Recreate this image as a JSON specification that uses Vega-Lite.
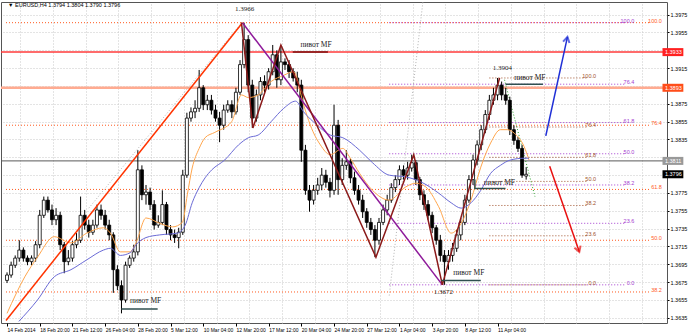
{
"$schema":"https://vega.github.io/schema/vega-lite/v6.json",
"width":666,"height":321,
"autosize":{"type":"none"},
"padding":{"left":1,"top":2,"right":21,"bottom":10},
"background":"#ffffff",
"config":{"view":{"stroke":"#555555","strokeWidth":1},"text":{"font":"Liberation Sans"}},
"datasets":{
"candles":[
{"i":0,"o":1.3677,"h":1.3686,"l":1.3674,"c":1.3683},{"i":2,"o":1.3683,"h":1.3698,"l":1.3680,"c":1.3694},{"i":4,"o":1.3694,"h":1.3705,"l":1.3691,"c":1.3702},{"i":6,"o":1.3702,"h":1.3722,"l":1.3698,"c":1.3711},{"i":8,"o":1.3711,"h":1.3714,"l":1.3698,"c":1.3702},{"i":10,"o":1.3702,"h":1.3705,"l":1.3694,"c":1.3698},{"i":12,"o":1.3698,"h":1.3705,"l":1.3694,"c":1.3702},{"i":14,"o":1.3702,"h":1.3721,"l":1.3698,"c":1.3717},{"i":16,"o":1.3717,"h":1.3756,"l":1.3713,"c":1.3750},{"i":18,"o":1.3750,"h":1.3771,"l":1.3747,"c":1.3767},{"i":20,"o":1.3767,"h":1.3771,"l":1.3753,"c":1.3756},{"i":22,"o":1.3756,"h":1.3762,"l":1.3739,"c":1.3745},{"i":24,"o":1.3745,"h":1.3758,"l":1.3739,"c":1.3750},{"i":26,"o":1.3750,"h":1.3754,"l":1.3711,"c":1.3717},{"i":28,"o":1.3717,"h":1.3720,"l":1.3685,"c":1.3698},{"i":30,"o":1.3698,"h":1.3711,"l":1.3694,"c":1.3702},{"i":32,"o":1.3702,"h":1.3721,"l":1.3698,"c":1.3717},{"i":34,"o":1.3717,"h":1.3730,"l":1.3713,"c":1.3722},{"i":36,"o":1.3722,"h":1.3771,"l":1.3719,"c":1.3750},{"i":38,"o":1.3750,"h":1.3756,"l":1.3734,"c":1.3739},{"i":40,"o":1.3739,"h":1.3745,"l":1.3725,"c":1.3731},{"i":42,"o":1.3731,"h":1.3745,"l":1.3728,"c":1.3739},{"i":44,"o":1.3739,"h":1.3762,"l":1.3736,"c":1.3756},{"i":46,"o":1.3756,"h":1.3762,"l":1.3745,"c":1.3750},{"i":48,"o":1.3750,"h":1.3756,"l":1.3734,"c":1.3739},{"i":50,"o":1.3739,"h":1.3745,"l":1.3722,"c":1.3728},{"i":52,"o":1.3728,"h":1.3731,"l":1.3663,"c":1.3689},{"i":54,"o":1.3689,"h":1.3694,"l":1.3666,"c":1.3671},{"i":56,"o":1.3671,"h":1.3677,"l":1.3640,"c":1.3655},{"i":58,"o":1.3655,"h":1.3698,"l":1.3652,"c":1.3694},{"i":60,"o":1.3694,"h":1.3705,"l":1.3691,"c":1.3702},{"i":62,"o":1.3702,"h":1.3717,"l":1.3698,"c":1.3709},{"i":64,"o":1.3709,"h":1.3823,"l":1.3705,"c":1.3801},{"i":66,"o":1.3801,"h":1.3806,"l":1.3767,"c":1.3773},{"i":68,"o":1.3773,"h":1.3784,"l":1.3762,"c":1.3776},{"i":70,"o":1.3776,"h":1.3781,"l":1.3756,"c":1.3762},{"i":72,"o":1.3762,"h":1.3767,"l":1.3734,"c":1.3739},{"i":74,"o":1.3739,"h":1.3750,"l":1.3736,"c":1.3742},{"i":76,"o":1.3742,"h":1.3778,"l":1.3739,"c":1.3762},{"i":78,"o":1.3762,"h":1.3765,"l":1.3728,"c":1.3734},{"i":80,"o":1.3734,"h":1.3739,"l":1.3722,"c":1.3728},{"i":82,"o":1.3728,"h":1.3734,"l":1.3719,"c":1.3725},{"i":84,"o":1.3725,"h":1.3736,"l":1.3713,"c":1.3731},{"i":86,"o":1.3731,"h":1.3801,"l":1.3728,"c":1.3795},{"i":88,"o":1.3795,"h":1.3865,"l":1.3792,"c":1.3859},{"i":90,"o":1.3859,"h":1.3871,"l":1.3855,"c":1.3866},{"i":92,"o":1.3866,"h":1.3879,"l":1.3859,"c":1.3870},{"i":94,"o":1.3870,"h":1.3913,"l":1.3866,"c":1.3893},{"i":96,"o":1.3893,"h":1.3896,"l":1.3868,"c":1.3874},{"i":98,"o":1.3874,"h":1.3885,"l":1.3868,"c":1.3879},{"i":100,"o":1.3879,"h":1.3885,"l":1.3863,"c":1.3868},{"i":102,"o":1.3868,"h":1.3874,"l":1.3855,"c":1.3859},{"i":104,"o":1.3859,"h":1.3866,"l":1.3832,"c":1.3851},{"i":106,"o":1.3851,"h":1.3874,"l":1.3846,"c":1.3868},{"i":108,"o":1.3868,"h":1.3879,"l":1.3865,"c":1.3874},{"i":110,"o":1.3874,"h":1.3879,"l":1.3859,"c":1.3866},{"i":112,"o":1.3866,"h":1.3893,"l":1.3863,"c":1.3888},{"i":114,"o":1.3888,"h":1.3924,"l":1.3885,"c":1.3919},{"i":116,"o":1.3919,"h":1.3966,"l":1.3915,"c":1.3947},{"i":118,"o":1.3947,"h":1.3952,"l":1.3888,"c":1.3896},{"i":120,"o":1.3896,"h":1.3902,"l":1.3848,"c":1.3859},{"i":122,"o":1.3859,"h":1.3891,"l":1.3855,"c":1.3885},{"i":124,"o":1.3885,"h":1.3905,"l":1.3879,"c":1.3900},{"i":126,"o":1.3900,"h":1.3907,"l":1.3888,"c":1.3896},{"i":128,"o":1.3896,"h":1.3915,"l":1.3891,"c":1.3911},{"i":130,"o":1.3911,"h":1.3941,"l":1.3907,"c":1.3930},{"i":132,"o":1.3930,"h":1.3935,"l":1.3893,"c":1.3902},{"i":134,"o":1.3902,"h":1.3940,"l":1.3896,"c":1.3922},{"i":136,"o":1.3922,"h":1.3926,"l":1.3913,"c":1.3919},{"i":138,"o":1.3919,"h":1.3924,"l":1.3904,"c":1.3911},{"i":140,"o":1.3911,"h":1.3915,"l":1.3900,"c":1.3904},{"i":142,"o":1.3904,"h":1.3911,"l":1.3888,"c":1.3896},{"i":144,"o":1.3896,"h":1.3902,"l":1.3810,"c":1.3823},{"i":146,"o":1.3823,"h":1.3829,"l":1.3773,"c":1.3778},{"i":148,"o":1.3778,"h":1.3784,"l":1.3754,"c":1.3767},{"i":150,"o":1.3767,"h":1.3784,"l":1.3762,"c":1.3778},{"i":152,"o":1.3778,"h":1.3792,"l":1.3773,"c":1.3784},{"i":154,"o":1.3784,"h":1.3803,"l":1.3778,"c":1.3795},{"i":156,"o":1.3795,"h":1.3801,"l":1.3781,"c":1.3787},{"i":158,"o":1.3787,"h":1.3792,"l":1.3770,"c":1.3778},{"i":160,"o":1.3778,"h":1.3874,"l":1.3773,"c":1.3851},{"i":162,"o":1.3851,"h":1.3857,"l":1.3773,"c":1.3790},{"i":164,"o":1.3790,"h":1.3814,"l":1.3784,"c":1.3806},{"i":166,"o":1.3806,"h":1.3823,"l":1.3801,"c":1.3810},{"i":168,"o":1.3810,"h":1.3814,"l":1.3786,"c":1.3792},{"i":170,"o":1.3792,"h":1.3799,"l":1.3773,"c":1.3778},{"i":172,"o":1.3778,"h":1.3784,"l":1.3762,"c":1.3767},{"i":174,"o":1.3767,"h":1.3773,"l":1.3747,"c":1.3754},{"i":176,"o":1.3754,"h":1.3758,"l":1.3736,"c":1.3742},{"i":178,"o":1.3742,"h":1.3747,"l":1.3728,"c":1.3734},{"i":180,"o":1.3734,"h":1.3739,"l":1.3703,"c":1.3722},{"i":182,"o":1.3722,"h":1.3747,"l":1.3717,"c":1.3742},{"i":184,"o":1.3742,"h":1.3762,"l":1.3739,"c":1.3756},{"i":186,"o":1.3756,"h":1.3773,"l":1.3750,"c":1.3767},{"i":188,"o":1.3767,"h":1.3786,"l":1.3764,"c":1.3781},{"i":190,"o":1.3781,"h":1.3795,"l":1.3776,"c":1.3790},{"i":192,"o":1.3790,"h":1.3806,"l":1.3784,"c":1.3801},{"i":194,"o":1.3801,"h":1.3806,"l":1.3790,"c":1.3795},{"i":196,"o":1.3795,"h":1.3810,"l":1.3790,"c":1.3803},{"i":198,"o":1.3803,"h":1.3818,"l":1.3799,"c":1.3809},{"i":200,"o":1.3809,"h":1.3812,"l":1.3784,"c":1.3790},{"i":202,"o":1.3790,"h":1.3793,"l":1.3767,"c":1.3773},{"i":204,"o":1.3773,"h":1.3778,"l":1.3756,"c":1.3762},{"i":206,"o":1.3762,"h":1.3767,"l":1.3745,"c":1.3750},{"i":208,"o":1.3750,"h":1.3754,"l":1.3730,"c":1.3736},{"i":210,"o":1.3736,"h":1.3739,"l":1.3717,"c":1.3722},{"i":212,"o":1.3722,"h":1.3728,"l":1.3698,"c":1.3705},{"i":214,"o":1.3705,"h":1.3711,"l":1.3672,"c":1.3698},{"i":216,"o":1.3698,"h":1.3711,"l":1.3689,"c":1.3705},{"i":218,"o":1.3705,"h":1.3719,"l":1.3698,"c":1.3713},{"i":220,"o":1.3713,"h":1.3734,"l":1.3709,"c":1.3728},{"i":222,"o":1.3728,"h":1.3747,"l":1.3722,"c":1.3742},{"i":224,"o":1.3742,"h":1.3773,"l":1.3739,"c":1.3767},{"i":226,"o":1.3767,"h":1.3795,"l":1.3764,"c":1.3790},{"i":228,"o":1.3790,"h":1.3818,"l":1.3784,"c":1.3812},{"i":230,"o":1.3812,"h":1.3834,"l":1.3806,"c":1.3829},{"i":232,"o":1.3829,"h":1.3851,"l":1.3823,"c":1.3846},{"i":234,"o":1.3846,"h":1.3868,"l":1.3842,"c":1.3863},{"i":236,"o":1.3863,"h":1.3885,"l":1.3857,"c":1.3879},{"i":238,"o":1.3879,"h":1.3893,"l":1.3874,"c":1.3885},{"i":240,"o":1.3885,"h":1.3904,"l":1.3879,"c":1.3896},{"i":242,"o":1.3896,"h":1.3900,"l":1.3879,"c":1.3885},{"i":244,"o":1.3885,"h":1.3893,"l":1.3874,"c":1.3879},{"i":246,"o":1.3879,"h":1.3883,"l":1.3840,"c":1.3846},{"i":248,"o":1.3846,"h":1.3851,"l":1.3829,"c":1.3834},{"i":250,"o":1.3834,"h":1.3838,"l":1.3821,"c":1.3825},{"i":252,"o":1.3825,"h":1.3829,"l":1.3792,"c":1.3795},{"i":254,"o":1.3794,"h":1.3804,"l":1.3790,"c":1.3796}
],
"ma":[
{"s":"f","i":0,"p":1.3640},{"s":"f","i":8.7,"p":1.3681},{"s":"f","i":14.9,"p":1.3703},{"s":"f","i":23.1,"p":1.3726},{"s":"f","i":31.3,"p":1.3719},{"s":"f","i":39,"p":1.3730},{"s":"f","i":47.2,"p":1.3736},{"s":"f","i":50.6,"p":1.3730},{"s":"f","i":55.4,"p":1.3709},{"s":"f","i":60.2,"p":1.3709},{"s":"f","i":63.1,"p":1.3719},{"s":"f","i":68,"p":1.3747},{"s":"f","i":74.7,"p":1.3741},{"s":"f","i":81,"p":1.3737},{"s":"f","i":85.8,"p":1.3742},{"s":"f","i":88.2,"p":1.3773},{"s":"f","i":90.6,"p":1.3803},{"s":"f","i":94,"p":1.3825},{"s":"f","i":96.9,"p":1.3837},{"s":"f","i":101.7,"p":1.3843},{"s":"f","i":109.9,"p":1.3855},{"s":"f","i":114.7,"p":1.3885},{"s":"f","i":118.1,"p":1.3882},{"s":"f","i":122.9,"p":1.3885},{"s":"f","i":129.2,"p":1.3900},{"s":"f","i":135.4,"p":1.3907},{"s":"f","i":140.2,"p":1.3911},{"s":"f","i":145.1,"p":1.3874},{"s":"f","i":148.4,"p":1.3851},{"s":"f","i":153.3,"p":1.3829},{"s":"f","i":158.1,"p":1.3818},{"s":"f","i":164.3,"p":1.3825},{"s":"f","i":167.7,"p":1.3815},{"s":"f","i":172.5,"p":1.3797},{"s":"f","i":178.8,"p":1.3778},{"s":"f","i":187,"p":1.3767},{"s":"f","i":195.2,"p":1.3782},{"s":"f","i":200,"p":1.3786},{"s":"f","i":204.8,"p":1.3782},{"s":"f","i":211.1,"p":1.3760},{"s":"f","i":217.3,"p":1.3730},{"s":"f","i":222.2,"p":1.3741},{"s":"f","i":227,"p":1.3767},{"s":"f","i":231.8,"p":1.3804},{"s":"f","i":236.6,"p":1.3831},{"s":"f","i":241.4,"p":1.3846},{"s":"f","i":244.8,"p":1.3846},{"s":"f","i":248.2,"p":1.3842},{"s":"f","i":253,"p":1.3827},{"s":"f","i":255.4,"p":1.3812},
{"s":"s","i":5.8,"p":1.3631},{"s":"s","i":14.9,"p":1.3655},{"s":"s","i":23.1,"p":1.3681},{"s":"s","i":31.3,"p":1.3689},{"s":"s","i":39,"p":1.3700},{"s":"s","i":47.2,"p":1.3711},{"s":"s","i":50.6,"p":1.3713},{"s":"s","i":55.4,"p":1.3705},{"s":"s","i":60.2,"p":1.3708},{"s":"s","i":63.1,"p":1.3717},{"s":"s","i":68,"p":1.3725},{"s":"s","i":74.7,"p":1.3728},{"s":"s","i":83.4,"p":1.3730},{"s":"s","i":87.2,"p":1.3739},{"s":"s","i":90.6,"p":1.3764},{"s":"s","i":94,"p":1.3781},{"s":"s","i":96.9,"p":1.3792},{"s":"s","i":100.2,"p":1.3801},{"s":"s","i":106.5,"p":1.3812},{"s":"s","i":113.3,"p":1.3829},{"s":"s","i":118.1,"p":1.3837},{"s":"s","i":122.9,"p":1.3840},{"s":"s","i":129.2,"p":1.3855},{"s":"s","i":135.4,"p":1.3870},{"s":"s","i":141.2,"p":1.3878},{"s":"s","i":145.1,"p":1.3866},{"s":"s","i":151.8,"p":1.3851},{"s":"s","i":158.1,"p":1.3840},{"s":"s","i":164.3,"p":1.3837},{"s":"s","i":172.5,"p":1.3823},{"s":"s","i":178.8,"p":1.3809},{"s":"s","i":187,"p":1.3795},{"s":"s","i":195.2,"p":1.3793},{"s":"s","i":202.9,"p":1.3787},{"s":"s","i":211.1,"p":1.3775},{"s":"s","i":217.3,"p":1.3764},{"s":"s","i":222.2,"p":1.3758},{"s":"s","i":227,"p":1.3764},{"s":"s","i":231.8,"p":1.3778},{"s":"s","i":236.6,"p":1.3797},{"s":"s","i":241.4,"p":1.3806},{"s":"s","i":246.3,"p":1.3812},{"s":"s","i":253,"p":1.3814},{"s":"s","i":255.4,"p":1.3814}
],
"hlines":[{"k":"hRed","p":1.3933},{"k":"hSalmon","p":1.3893},{"k":"hGray","p":1.3811}],
"segs":[
{"g":"o1","k":"fibO","n":0,"i":-0.5,"p":1.3966},{"g":"o1","k":"fibO","n":1,"i":315,"p":1.3966},
{"g":"o2","k":"fibO","n":0,"i":-0.5,"p":1.3851},{"g":"o2","k":"fibO","n":1,"i":315,"p":1.3851},
{"g":"o3","k":"fibO","n":0,"i":-0.5,"p":1.3779},{"g":"o3","k":"fibO","n":1,"i":315,"p":1.3779},
{"g":"o4","k":"fibO","n":0,"i":-0.5,"p":1.3722},{"g":"o4","k":"fibO","n":1,"i":315,"p":1.3722},
{"g":"o5","k":"fibO","n":0,"i":-0.5,"p":1.3664},{"g":"o5","k":"fibO","n":1,"i":315,"p":1.3664},
{"g":"p1","k":"fibP","n":0,"i":187,"p":1.3966},{"g":"p1","k":"fibP","n":1,"i":302.5,"p":1.3966},
{"g":"p2","k":"fibP","n":0,"i":187,"p":1.3897},{"g":"p2","k":"fibP","n":1,"i":302.5,"p":1.3897},
{"g":"p3","k":"fibP","n":0,"i":187,"p":1.3854},{"g":"p3","k":"fibP","n":1,"i":302.5,"p":1.3854},
{"g":"p4","k":"fibP","n":0,"i":187,"p":1.3819},{"g":"p4","k":"fibP","n":1,"i":302.5,"p":1.3819},
{"g":"p5","k":"fibP","n":0,"i":187,"p":1.3784},{"g":"p5","k":"fibP","n":1,"i":302.5,"p":1.3784},
{"g":"p6","k":"fibP","n":0,"i":187,"p":1.3741},{"g":"p6","k":"fibP","n":1,"i":302.5,"p":1.3741},
{"g":"p7","k":"fibP","n":0,"i":187,"p":1.3672},{"g":"p7","k":"fibP","n":1,"i":302.5,"p":1.3672},
{"g":"b1","k":"fibB","n":0,"i":236,"p":1.3904},{"g":"b1","k":"fibB","n":1,"i":283.5,"p":1.3904},
{"g":"b2","k":"fibB","n":0,"i":236,"p":1.3849},{"g":"b2","k":"fibB","n":1,"i":283.5,"p":1.3849},
{"g":"b3","k":"fibB","n":0,"i":236,"p":1.3815},{"g":"b3","k":"fibB","n":1,"i":283.5,"p":1.3815},
{"g":"b4","k":"fibB","n":0,"i":236,"p":1.3788},{"g":"b4","k":"fibB","n":1,"i":283.5,"p":1.3788},
{"g":"b5","k":"fibB","n":0,"i":236,"p":1.3761},{"g":"b5","k":"fibB","n":1,"i":283.5,"p":1.3761},
{"g":"b6","k":"fibB","n":0,"i":236,"p":1.3727},{"g":"b6","k":"fibB","n":1,"i":283.5,"p":1.3727},
{"g":"b7","k":"fibB","n":0,"i":236,"p":1.3672},{"g":"b7","k":"fibB","n":1,"i":283.5,"p":1.3672},
{"g":"gr1","k":"grayDot","n":0,"i":40,"p":1.3758},{"g":"gr1","k":"grayDot","n":1,"i":115.2,"p":1.3967},
{"g":"gr2","k":"grayDot","n":0,"i":187,"p":1.3660},{"g":"gr2","k":"grayDot","n":1,"i":203.5,"p":1.3990},
{"g":"gd","k":"greenDot","n":0,"i":243.4,"p":1.3902},{"g":"gd","k":"greenDot","n":1,"i":258.3,"p":1.3771},
{"g":"t1","k":"trendUp","n":0,"i":-0.5,"p":1.3632},{"g":"t1","k":"trendUp","n":1,"i":115.2,"p":1.3966},
{"g":"t2","k":"trendDown","n":0,"i":115.2,"p":1.3966},{"g":"t2","k":"trendDown","n":1,"i":213,"p":1.3672},
{"g":"z","k":"zigzag","n":0,"i":114.7,"p":1.3966},{"g":"z","k":"zigzag","n":1,"i":120.3,"p":1.3848},{"g":"z","k":"zigzag","n":2,"i":134,"p":1.3941},{"g":"z","k":"zigzag","n":3,"i":180.5,"p":1.3703},{"g":"z","k":"zigzag","n":4,"i":199,"p":1.3818},{"g":"z","k":"zigzag","n":5,"i":213,"p":1.3672},{"g":"z","k":"zigzag","n":6,"i":241,"p":1.3904},
{"g":"pv1","k":"pivotRed","n":0,"i":139.8,"p":1.3933},{"g":"pv1","k":"pivotRed","n":1,"i":157,"p":1.3933},
{"g":"pv2","k":"pivot","n":0,"i":243.9,"p":1.3897},{"g":"pv2","k":"pivot","n":1,"i":262.2,"p":1.3897},
{"g":"pv3","k":"pivot","n":0,"i":228.9,"p":1.3790},{"g":"pv3","k":"pivot","n":1,"i":228.9,"p":1.3780},{"g":"pv3","k":"pivot","n":2,"i":243.9,"p":1.3780},
{"g":"pv4","k":"pivot","n":0,"i":212.5,"p":1.3677},{"g":"pv4","k":"pivot","n":1,"i":231.8,"p":1.3677},
{"g":"pv5","k":"pivot","n":0,"i":55.9,"p":1.3645},{"g":"pv5","k":"pivot","n":1,"i":73.7,"p":1.3645},
{"g":"ab","k":"arrowBlue","n":0,"i":263.6,"p":1.3839},{"g":"ab","k":"arrowBlue","n":1,"i":274.2,"p":1.3950},
{"g":"ar","k":"arrowRed","n":0,"i":265.5,"p":1.3805},{"g":"ar","k":"arrowRed","n":1,"i":280,"p":1.3709}
],
"heads":[{"k":"arrowBlue","i":274.2,"p":1.3950},{"k":"arrowRed","i":280,"p":1.3709}],
"fibtext":[
{"k":"fibO","t":"100.0","i":320.4,"p":1.3966},{"k":"fibO","t":"76.4","i":320.4,"p":1.3851},{"k":"fibO","t":"61.8","i":320.4,"p":1.3779},{"k":"fibO","t":"50.0","i":320.4,"p":1.3722},{"k":"fibO","t":"38.2","i":320.4,"p":1.3664},
{"k":"fibP","t":"100.0","i":306.9,"p":1.3966},{"k":"fibP","t":"76.4","i":306.9,"p":1.3897},{"k":"fibP","t":"61.8","i":306.9,"p":1.3854},{"k":"fibP","t":"50.0","i":306.9,"p":1.3819},{"k":"fibP","t":"38.2","i":306.9,"p":1.3784},{"k":"fibP","t":"23.6","i":306.9,"p":1.3741},{"k":"fibP","t":"0.0","i":306.9,"p":1.3672},
{"k":"fibB","t":"100.0","i":288.2,"p":1.3904},{"k":"fibB","t":"76.4","i":288.2,"p":1.3849},{"k":"fibB","t":"61.8","i":288.2,"p":1.3815},{"k":"fibB","t":"50.0","i":288.2,"p":1.3788},{"k":"fibB","t":"38.2","i":288.2,"p":1.3761},{"k":"fibB","t":"23.6","i":288.2,"p":1.3727},{"k":"fibB","t":"0.0","i":288.2,"p":1.3672}
],
"pivots":[{"t":"пивот MF","i":143.6,"p":1.3941},{"t":"пивот MF","i":248.2,"p":1.3904},{"t":"пивот MF","i":233.3,"p":1.3786},{"t":"пивот MF","i":218.3,"p":1.3685},{"t":"пивот MF","i":60.2,"p":1.3654}],
"prices":[{"t":"1.3966","i":116.3,"p":1.3981},{"t":"1.3904","i":242.4,"p":1.3915},{"t":"1.3672","i":213.5,"p":1.3664}],
"boxes":[{"t":"1.3933","k":"r","p":1.3933},{"t":"1.3893","k":"o","p":1.3893},{"t":"1.3811","k":"g","p":1.3811},{"t":"1.3796","k":"b","p":1.3796}]
},
"layer":[
{"data":{"name":"hlines"},"transform":[{"filter":"datum.k == 'hRed'"}],"mark":{"type":"rule","color":"#ff3b3b","strokeWidth":1.5},
 "encoding":{"y":{"field":"p","type":"quantitative","scale":{"domain":[1.36292,1.39892],"nice":false,"zero":false},"axis":null}}},
{"data":{"name":"hlines"},"transform":[{"filter":"datum.k == 'hSalmon'"}],"mark":{"type":"rule","color":"#ffab91","strokeWidth":2.5},
 "encoding":{"y":{"field":"p","type":"quantitative","scale":{"domain":[1.36292,1.39892],"nice":false,"zero":false},"axis":null}}},
{"data":{"name":"hlines"},"transform":[{"filter":"datum.k == 'hGray'"}],"mark":{"type":"rule","color":"#5a5a5a","strokeWidth":1},
 "encoding":{"y":{"field":"p","type":"quantitative","scale":{"domain":[1.36292,1.39892],"nice":false,"zero":false},"axis":null}}},
{"data":{"name":"segs"},"transform":[{"filter":"indexof(['fibO','fibP','fibB','grayDot','greenDot'], datum.k) >= 0"}],
 "mark":{"type":"line","strokeDash":[1,2],"strokeWidth":1,"clip":true},
 "encoding":{"x":{"field":"i","type":"quantitative","scale":{"domain":[-0.5,320.46],"nice":false,"zero":false},"axis":null},
 "y":{"field":"p","type":"quantitative","scale":{"domain":[1.36292,1.39892],"nice":false,"zero":false},"axis":null},
 "detail":{"field":"g"},"order":{"field":"n","type":"quantitative"},
 "color":{"field":"k","type":"nominal","scale":{"domain":["fibO","fibP","fibB","grayDot","greenDot"],"range":["#ff5a1f","#a43ccf","#a0522d","#b4b4b4","#2ca02c"]},"legend":null}}},
{"data":{"name":"candles"},"mark":{"type":"rule","color":"#000000","strokeWidth":1},
 "encoding":{"x":{"field":"i","type":"quantitative","scale":{"domain":[-0.5,320.46],"nice":false,"zero":false},
   "axis":{"orient":"top","values":[6.5,22.5,38.5,54.5,70.5,86.5,102.5,118.5,134.5,150.5,166.5,182.5,198.5,214.5,230.5,246.5,262.5,278.5,294.5,310.5],"grid":true,"gridColor":"#c8c8c8","gridDash":[1,2],"labels":false,"ticks":false,"domain":false,"title":null}},
 "y":{"field":"l","type":"quantitative","scale":{"domain":[1.36292,1.39892],"nice":false,"zero":false},
   "axis":{"orient":"right","values":[1.3635,1.3655,1.3675,1.3695,1.3715,1.3735,1.3755,1.3775,1.3795,1.3815,1.3835,1.3855,1.3875,1.3895,1.3915,1.3935,1.3955,1.3975],"format":".4f","labelExpr":"indexof(['1.3935','1.3895','1.3815','1.3795'], datum.label) >= 0 ? '' : datum.label","grid":true,"gridColor":"#c8c8c8","gridDash":[1,2],"domain":false,"title":null,"labelFont":"Liberation Sans","labelFontSize":5.5,"labelColor":"#000000","tickSize":2,"tickColor":"#000000","labelPadding":1}},
 "y2":{"field":"h"}}},
{"data":{"name":"candles"},"mark":{"type":"bar","size":3,"stroke":"#000000","strokeWidth":0.8},
 "encoding":{"x":{"field":"i","type":"quantitative","scale":{"domain":[-0.5,320.46],"nice":false,"zero":false},
   "axis":{"orient":"bottom","values":[0,16,32,48,64,80,96,112,128,144,160,176,192,208,224,240],"labelExpr":"['14 Feb 2014','18 Feb 20:00','21 Feb 12:00','26 Feb 04:00','28 Feb 20:00','5 Mar 12:00','10 Mar 04:00','12 Mar 20:00','17 Mar 12:00','20 Mar 04:00','24 Mar 20:00','27 Mar 12:00','1 Apr 04:00','3 Apr 20:00','8 Apr 12:00','11 Apr 04:00'][round(datum.value/16)]","labelAlign":"left","labelFont":"Liberation Sans","labelFontSize":5,"labelColor":"#000000","tickSize":3,"tickColor":"#000000","labelPadding":1,"domain":false,"grid":false,"labelOverlap":false,"labelFlush":false,"labelBound":false,"title":null}},
 "y":{"field":"o","type":"quantitative","scale":{"domain":[1.36292,1.39892],"nice":false,"zero":false},"axis":null},
 "y2":{"field":"c"},
 "color":{"condition":{"test":"datum.c >= datum.o","value":"#ffffff"},"value":"#000000"}}},
{"data":{"name":"ma"},"mark":{"type":"line","strokeWidth":1,"clip":true,"interpolate":"monotone"},
 "encoding":{"x":{"field":"i","type":"quantitative","scale":{"domain":[-0.5,320.46],"nice":false,"zero":false},"axis":null},
 "y":{"field":"p","type":"quantitative","scale":{"domain":[1.36292,1.39892],"nice":false,"zero":false},"axis":null},
 "color":{"field":"s","type":"nominal","scale":{"domain":["f","s"],"range":["#ffa64d","#6b6bd6"]},"legend":null}}},
{"data":{"name":"segs"},"transform":[{"filter":"indexof(['fibO','fibP','fibB','grayDot','greenDot'], datum.k) < 0"}],
 "mark":{"type":"line","clip":true},
 "encoding":{"x":{"field":"i","type":"quantitative","scale":{"domain":[-0.5,320.46],"nice":false,"zero":false},"axis":null},
 "y":{"field":"p","type":"quantitative","scale":{"domain":[1.36292,1.39892],"nice":false,"zero":false},"axis":null},
 "detail":{"field":"g"},"order":{"field":"n","type":"quantitative"},
 "color":{"field":"k","type":"nominal","scale":{"domain":["trendUp","trendDown","zigzag","pivot","pivotRed","arrowBlue","arrowRed"],"range":["#ff3300","#8e1a9a","#8b1a1a","#2f4f4f","#7a1010","#1f2fd6","#e81010"]},"legend":null},
 "strokeWidth":{"field":"k","type":"ordinal","scale":{"domain":["trendUp","trendDown","zigzag","pivot","pivotRed","arrowBlue","arrowRed"],"range":[1.5,1.5,1.5,1.3,1.3,2,2]},"legend":null}}},
{"data":{"name":"heads"},"transform":[{"filter":"datum.k == 'arrowBlue'"}],
 "mark":{"type":"point","shape":"M -0.6 1 L 0 0 L 0.6 1","filled":false,"size":120,"angle":12.5,"strokeWidth":2,"color":"#1f2fd6"},
 "encoding":{"x":{"field":"i","type":"quantitative","scale":{"domain":[-0.5,320.46],"nice":false,"zero":false},"axis":null},
 "y":{"field":"p","type":"quantitative","scale":{"domain":[1.36292,1.39892],"nice":false,"zero":false},"axis":null}}},
{"data":{"name":"heads"},"transform":[{"filter":"datum.k == 'arrowRed'"}],
 "mark":{"type":"point","shape":"M -0.6 1 L 0 0 L 0.6 1","filled":false,"size":120,"angle":160.6,"strokeWidth":2,"color":"#e81010"},
 "encoding":{"x":{"field":"i","type":"quantitative","scale":{"domain":[-0.5,320.46],"nice":false,"zero":false},"axis":null},
 "y":{"field":"p","type":"quantitative","scale":{"domain":[1.36292,1.39892],"nice":false,"zero":false},"axis":null}}},
{"data":{"name":"fibtext"},"mark":{"type":"text","align":"right","baseline":"bottom","dy":1,"fontSize":5.5,"font":"Liberation Sans"},
 "encoding":{"x":{"field":"i","type":"quantitative","scale":{"domain":[-0.5,320.46],"nice":false,"zero":false},"axis":null},
 "y":{"field":"p","type":"quantitative","scale":{"domain":[1.36292,1.39892],"nice":false,"zero":false},"axis":null},
 "text":{"field":"t"},
 "color":{"field":"k","type":"nominal","scale":{"domain":["fibO","fibP","fibB"],"range":["#ff5a1f","#a43ccf","#a0522d"]},"legend":null}}},
{"data":{"name":"pivots"},"mark":{"type":"text","align":"left","baseline":"middle","fontSize":7.5,"font":"Liberation Serif","color":"#1a1a1a"},
 "encoding":{"x":{"field":"i","type":"quantitative","scale":{"domain":[-0.5,320.46],"nice":false,"zero":false},"axis":null},
 "y":{"field":"p","type":"quantitative","scale":{"domain":[1.36292,1.39892],"nice":false,"zero":false},"axis":null},
 "text":{"field":"t"}}},
{"data":{"name":"prices"},"mark":{"type":"text","align":"center","baseline":"middle","fontSize":7,"font":"Liberation Serif","color":"#1a1a1a"},
 "encoding":{"x":{"field":"i","type":"quantitative","scale":{"domain":[-0.5,320.46],"nice":false,"zero":false},"axis":null},
 "y":{"field":"p","type":"quantitative","scale":{"domain":[1.36292,1.39892],"nice":false,"zero":false},"axis":null},
 "text":{"field":"t"}}},
{"data":{"values":[{"t":"▼  EURUSD,H4  1.3794 1.3804 1.3790 1.3796"}]},"mark":{"type":"text","align":"left","baseline":"middle","fontSize":5.5,"font":"Liberation Sans","color":"#000000"},
 "encoding":{"x":{"datum":0.5,"type":"quantitative","scale":{"domain":[-0.5,320.46],"nice":false,"zero":false},"axis":null},
 "y":{"datum":1.3986,"type":"quantitative","scale":{"domain":[1.36292,1.39892],"nice":false,"zero":false},"axis":null},
 "text":{"field":"t"}}},
{"data":{"name":"boxes"},"mark":{"type":"rule","strokeWidth":8,"strokeCap":"butt"},
 "encoding":{"x":{"datum":320.7,"type":"quantitative","scale":{"domain":[-0.5,320.46],"nice":false,"zero":false},"axis":null},
 "x2":{"datum":330.9},
 "y":{"field":"p","type":"quantitative","scale":{"domain":[1.36292,1.39892],"nice":false,"zero":false},"axis":null},
 "color":{"field":"k","type":"nominal","scale":{"domain":["r","o","g","b"],"range":["#ff2020","#ff4d1a","#999999","#000000"]},"legend":null}}},
{"data":{"name":"boxes"},"mark":{"type":"text","align":"left","baseline":"middle","fontSize":5.5,"font":"Liberation Sans","color":"#ffffff"},
 "encoding":{"x":{"datum":321.9,"type":"quantitative","scale":{"domain":[-0.5,320.46],"nice":false,"zero":false},"axis":null},
 "y":{"field":"p","type":"quantitative","scale":{"domain":[1.36292,1.39892],"nice":false,"zero":false},"axis":null},
 "text":{"field":"t"}}}
],
"resolve":{"axis":{"x":"independent","y":"independent"},"scale":{"color":"independent","strokeWidth":"independent"}}
}
